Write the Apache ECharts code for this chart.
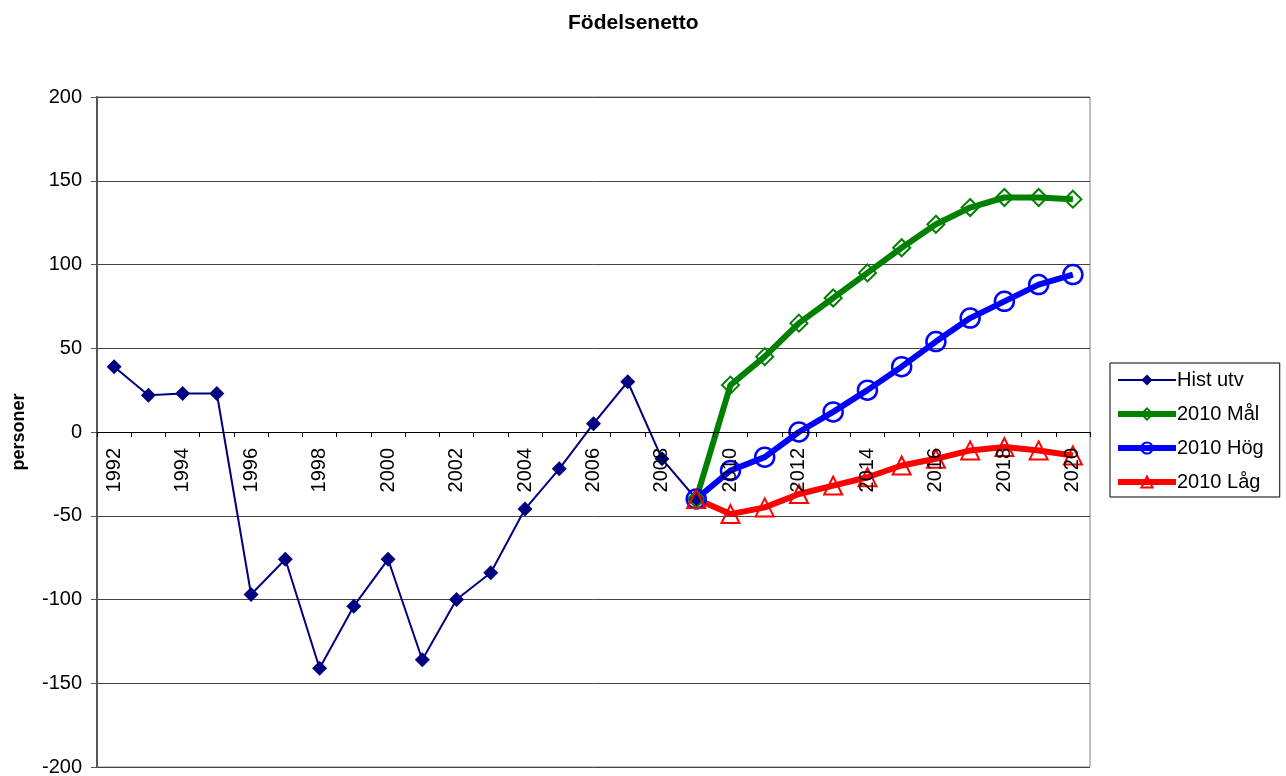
<!DOCTYPE html>
<html>
<head>
<meta charset="utf-8">
<script src="https://cdn.jsdelivr.net/npm/echarts@6/dist/echarts.min.js"></script>
<style>
  html, body { margin: 0; padding: 0; background: #fff; }
  #chart { width: 1286px; height: 776px; }
</style>
</head>
<body>
<div id="chart"></div>
<script>
// år 1992-2020
var years = [];
for (var y = 1992; y <= 2020; y++) years.push(String(y));

// historisk utveckling 1992-2009
var histUtv = [39, 22, 23, 23, -97, -76, -141, -104, -76, -136, -100, -84, -46, -22, 5, 30, -16, -40];
// prognoser 2009-2020
var prognosMal = [-40, 28, 45, 65, 80, 95, 110, 124, 134, 140, 140, 139];
var prognosHog = [-40, -23, -15, 0, 12, 25, 39, 54, 68, 78, 88, 94];
var prognosLag = [-40, -49, -45, -37, -32, -27, -20, -16, -11, -9, -11, -14];

var yTicks = { min: -200, max: 200, step: 50 };

function padFront(arr) {
  var out = [];
  for (var i = 0; i < years.length - arr.length; i++) out.push(null);
  return out.concat(arr);
}

var font = "Liberation Sans, Arial, sans-serif";
var plotTop = 97, plotBottom = 9, chartH = 776;
// x-axeln ligger vid 0, mitt i ritytan
var zeroOffset = -(chartH - plotTop - plotBottom) / 2;

var option = {
  animation: false,
  title: {
    text: "Födelsenetto",
    left: 563,
    top: 8,
    textStyle: { fontFamily: font, fontSize: 21, fontWeight: "bold", color: "#000" }
  },
  legend: {
    orient: "vertical",
    left: 1110,
    top: 363,
    padding: [7, 16, 5, 5],
    itemGap: 14,
    itemWidth: 58,
    itemHeight: 14,
    borderColor: "#000",
    borderWidth: 1,
    borderRadius: 0,
    textStyle: { fontFamily: font, fontSize: 20, color: "#000", padding: [0, 0, 0, -4] },
    data: [
      { name: "Hist utv" },
      { name: "2010 Mål", lineStyle: { width: 6 } },
      { name: "2010 Hög", lineStyle: { width: 6 } },
      { name: "2010 Låg", lineStyle: { width: 6 } }
    ]
  },
  grid: {
    left: 97,
    right: 196,
    top: plotTop,
    bottom: plotBottom,
    outerBoundsMode: "none",
    containLabel: false,
    show: true,
    borderColor: "#808080",
    borderWidth: 1
  },
  xAxis: {
    type: "category",
    data: years,
    boundaryGap: true,
    offset: zeroOffset,
    zlevel: 1, // årtalen ritas ovanpå linjerna
    axisLine: { onZero: false, lineStyle: { color: "#000", width: 1 } },
    axisTick: { show: true, interval: 0, length: 5, lineStyle: { color: "#000" } },
    axisLabel: {
      interval: 1,
      rotate: 90,
      margin: 16,
      overflow: "none",
      fontFamily: font,
      fontSize: 20,
      color: "#000"
    },
    splitLine: { show: false }
  },
  yAxis: {
    type: "value",
    min: yTicks.min,
    max: yTicks.max,
    interval: yTicks.step,
    name: "personer",
    nameLocation: "middle",
    nameGap: 69,
    nameTextStyle: { fontFamily: font, fontSize: 18, fontWeight: "bold", color: "#000" },
    axisLine: { show: true, lineStyle: { color: "#555", width: 2 } },
    axisTick: { show: true, length: 6, lineStyle: { color: "#555" } },
    axisLabel: { fontFamily: font, fontSize: 20, color: "#000", margin: 15 },
    splitLine: { show: true, lineStyle: { color: "#444", width: 1 } }
  },
  series: [
    {
      name: "Hist utv",
      type: "line",
      data: histUtv,
      symbol: "diamond",
      symbolSize: 15,
      lineStyle: { color: "#000080", width: 2 },
      itemStyle: { color: "#000080" }
    },
    {
      name: "2010 Mål",
      type: "line",
      data: padFront(prognosMal),
      symbol: "diamond",
      symbolSize: 17,
      lineStyle: { color: "#008000", width: 6 },
      itemStyle: { color: "rgba(255,255,255,0)", borderColor: "#008000", borderWidth: 2 }
    },
    {
      name: "2010 Hög",
      type: "line",
      data: padFront(prognosHog),
      symbol: "circle",
      symbolSize: 19,
      lineStyle: { color: "#0000FF", width: 6 },
      itemStyle: { color: "rgba(255,255,255,0)", borderColor: "#0000FF", borderWidth: 2.5 }
    },
    {
      name: "2010 Låg",
      type: "line",
      data: padFront(prognosLag),
      symbol: "triangle",
      symbolSize: 18,
      lineStyle: { color: "#FF0000", width: 6 },
      itemStyle: { color: "rgba(255,255,255,0)", borderColor: "#FF0000", borderWidth: 2 }
    }
  ]
};

var chart = echarts.init(document.getElementById("chart"));
chart.setOption(option);
</script>
</body>
</html>
